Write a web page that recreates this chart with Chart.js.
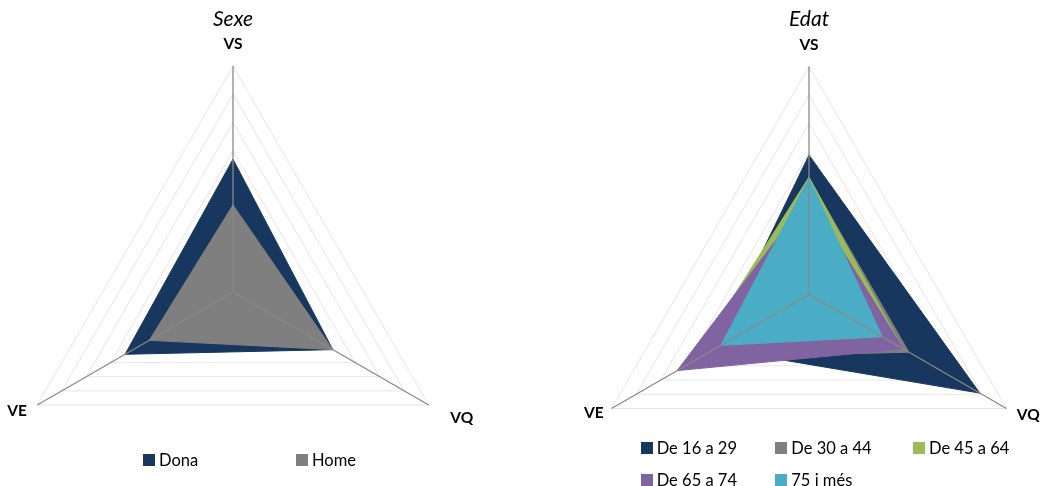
<!DOCTYPE html>
<html>
<head>
<meta charset="utf-8">
<script src="https://cdn.jsdelivr.net/npm/chart.js@4.4.1/dist/chart.umd.min.js"></script>
<style>
  html, body { margin: 0; padding: 0; width: 1041px; height: 486px; overflow: hidden; background: #fff; }
  canvas { position: absolute; top: 0; }
  #cSexe { left: -30px; }
  #cEdat { left: 547px; }
  .legend { position: absolute; left: 0; top: 0; width: 1041px; height: 486px; pointer-events: none; }
  .lg-item { position: absolute; display: flex; align-items: center; height: 12px; white-space: nowrap; }
  .lg-box { display: inline-block; width: 12px; height: 12px; margin-right: 4px; flex: none; }
  .lg-text { font-family: Lato, sans-serif; font-size: 16.5px; line-height: 12px; color: #000; }
</style>
</head>
<body>
<canvas id="cSexe" width="526" height="486"></canvas>
<canvas id="cEdat" width="524" height="486"></canvas>
<div id="legSexe" class="legend"></div>
<div id="legEdat" class="legend"></div>
<script>
// ---- data ----
const axisLabels = ['VS', 'VQ', 'VE'];

const sexeTitle = 'Sexe';
const sexeSeries = ['Dona', 'Home'];
const dona = [4.70, 4.08, 4.41];
const home = [3.08, 4.08, 3.42];

const edatTitle = 'Edat';
const edatSeries = ['De 16 a 29', 'De 30 a 44', 'De 45 a 64', 'De 65 a 74', '75 i més'];
const de16a29 = [4.89, 6.92, 3.80];
const de30a44 = [4.08, 4.05, 4.40];
const de45a64 = [4.12, 3.80, 4.75];
const de65a74 = [3.44, 3.82, 5.34];
const de75imes = [4.08, 2.97, 3.57];

const scaleMax = 8;
const scaleStep = 1;

// ---- styles ----
const navy = '#17375E', gray = '#7F7F7F', green = '#9BBB59', purple = '#8064A2', cyan = '#4BACC6';

const htmlLegend = {
  id: 'htmlLegend',
  afterUpdate(chart, args, opts) {
    const host = document.getElementById(opts.containerID);
    host.innerHTML = '';
    const cols = opts.columns;
    chart.data.datasets.forEach((ds, i) => {
      const item = document.createElement('div');
      item.className = 'lg-item';
      item.style.left = cols[i % cols.length] + 'px';
      item.style.top = opts.rows[Math.floor(i / cols.length)] + 'px';
      const box = document.createElement('span');
      box.className = 'lg-box';
      box.style.background = ds.backgroundColor;
      const txt = document.createElement('span');
      txt.className = 'lg-text';
      txt.textContent = ds.label;
      item.append(box, txt);
      host.append(item);
    });
  }
};

function radarConfig(title, series, values, colors, orders, geom, legendOpts) {
  const placeScale = s => { s.xCenter = geom.cx; s.yCenter = geom.cy; s.drawingArea = geom.r; };
  return {
    type: 'radar',
    data: {
      labels: axisLabels,
      datasets: series.map((name, i) => ({
        label: name,
        data: values[i],
        rAxisID: 'r',
        backgroundColor: colors[i],
        borderColor: colors[i],
        borderWidth: 1,
        fill: true,
        pointRadius: 0,
        pointHoverRadius: 0,
        order: orders[i]
      }))
    },
    options: {
      responsive: false,
      animation: false,
      events: [],
      layout: { padding: 0 },
      elements: { line: { tension: 0 } },
      plugins: {
        legend: { display: false },
        tooltip: { enabled: false },
        title: {
          display: true, text: title, color: '#000',
          font: { family: 'Lato', style: 'italic', weight: 'normal', size: 21, lineHeight: 1.2 },
          padding: { top: 7, bottom: 0 }
        },
        htmlLegend: legendOpts
      },
      scales: {
        r: {
          min: 0, max: scaleMax,
          ticks: { display: false, stepSize: scaleStep },
          grid: { color: '#e6e6e6', lineWidth: 1 },
          angleLines: { display: false },
          pointLabels: {
            color: '#000',
            font: { family: 'Lato', weight: 'bold', size: 15.5, lineHeight: 0.01 },
            padding: c => geom.pads[c.index]
          },
          beforeFit: placeScale
        },
        rTop: {
          type: 'radialLinear', axis: 'r',
          min: 0, max: scaleMax,
          ticks: { display: false, stepSize: scaleStep },
          grid: { display: false, z: 1 },
          angleLines: { display: true, color: '#898989', lineWidth: 1.3 },
          pointLabels: { display: false },
          beforeFit: placeScale
        }
      }
    },
    plugins: [htmlLegend]
  };
}

new Chart(document.getElementById('cSexe'), radarConfig(
  sexeTitle, sexeSeries, [dona, home], [navy, gray], [1, 0],
  { cx: 263, cy: 292, r: 226, pads: [22, 25, 12] },
  { containerID: 'legSexe', columns: [143, 296], rows: [453.5] }
));

new Chart(document.getElementById('cEdat'), radarConfig(
  edatTitle, edatSeries, [de16a29, de30a44, de45a64, de65a74, de75imes],
  [navy, gray, green, purple, cyan], [4, 3, 2, 1, 0],
  { cx: 262, cy: 294.5, r: 228, pads: [21.5, 12, 9] },
  { containerID: 'legEdat', columns: [640.7, 775.3, 913], rows: [442.3, 474.3] }
));
</script>
</body>
</html>
